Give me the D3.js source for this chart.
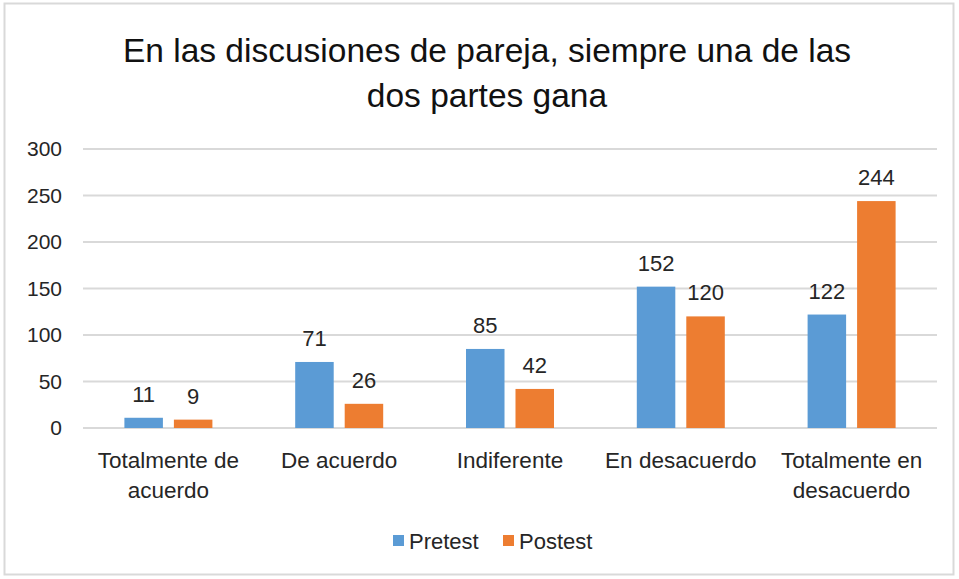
<!DOCTYPE html>
<meta charset="utf-8">
<head>
  <script src="https://d3js.org/d3.v7.min.js"></script>
  <style>
    body { margin: 0; background: #fff; }
    text { font-family: "Liberation Sans", Arial, sans-serif; }
  </style>
</head>
<body>
  <svg width="959" height="579"></svg>
  <script>
    // data
    var categories = [["Totalmente de", "acuerdo"], ["De acuerdo"], ["Indiferente"], ["En desacuerdo"], ["Totalmente en", "desacuerdo"]];
    var series = ["Pretest", "Postest"];
    var pretest = [11, 71, 85, 152, 122];
    var postest = [9, 26, 42, 120, 244];
    var yTicks = [0, 50, 100, 150, 200, 250, 300];
    var titleLines = ["En las discusiones de pareja, siempre una de las", "dos partes gana"];
    var colors = {"Pretest": "#5b9bd5", "Postest": "#ed7d31"};

    var svg = d3.select("svg");

    // chart frame
    svg.append("rect")
      .attr("x", 4.5).attr("y", 3.5)
      .attr("width", 949).attr("height", 571)
      .attr("fill", "#fff")
      .attr("stroke", "#d9d9d9")
      .attr("stroke-width", 2);

    // title
    svg.append("g").selectAll("text")
      .data(titleLines)
      .enter().append("text")
      .attr("x", 487)
      .attr("y", function(d, i) { return 62 + i * 45; })
      .attr("text-anchor", "middle")
      .attr("font-size", 33.5)
      .attr("fill", "#111")
      .text(function(d) { return d; });

    var left = 83, right = 937;
    var y = d3.scaleLinear().domain([0, 300]).range([428, 149]);
    var keys = d3.range(categories.length);
    var x0 = d3.scaleBand().domain(keys).range([left, right]).padding(0);
    var x1 = d3.scaleBand().domain(series).range([-44, 44]).paddingInner(0.222);

    // gridlines
    svg.append("g").selectAll("line")
      .data(yTicks)
      .enter().append("line")
      .attr("x1", left).attr("x2", right)
      .attr("y1", function(d) { return y(d); })
      .attr("y2", function(d) { return y(d); })
      .attr("stroke", "#d9d9d9")
      .attr("stroke-width", 2);

    // y axis labels
    var yAxis = svg.append("g")
      .attr("transform", "translate(62,0)")
      .call(d3.axisLeft(y).tickValues(yTicks).tickSize(0).tickPadding(0));
    yAxis.select(".domain").remove();
    yAxis.selectAll("text")
      .attr("font-size", 21)
      .attr("font-family", "Liberation Sans, Arial, sans-serif")
      .attr("fill", "#262626");

    // bars
    var rows = keys.map(function(i) {
      return [{s: "Pretest", v: pretest[i], i: i}, {s: "Postest", v: postest[i], i: i}];
    });
    var groups = svg.append("g").selectAll("g")
      .data(rows)
      .enter().append("g")
      .attr("transform", function(d, i) { return "translate(" + (x0(i) + x0.bandwidth() / 2) + ",0)"; });

    groups.selectAll("rect")
      .data(function(d) { return d; })
      .enter().append("rect")
      .attr("x", function(d) { return x1(d.s); })
      .attr("width", x1.bandwidth())
      .attr("y", function(d) { return y(d.v); })
      .attr("height", function(d) { return y(0) - y(d.v); })
      .attr("fill", function(d) { return colors[d.s]; });

    groups.selectAll("text")
      .data(function(d) { return d; })
      .enter().append("text")
      .attr("x", function(d) { return x1(d.s) + x1.bandwidth() / 2; })
      .attr("y", function(d) { return y(d.v) - 16; })
      .attr("text-anchor", "middle")
      .attr("font-size", 22)
      .attr("fill", "#262626")
      .text(function(d) { return d.v; });

    // category labels
    var cat = svg.append("g").selectAll("text")
      .data(categories)
      .enter().append("text")
      .attr("x", function(d, i) { return x0(i) + x0.bandwidth() / 2; })
      .attr("y", 468)
      .attr("text-anchor", "middle")
      .attr("font-size", 22.5)
      .attr("fill", "#262626");
    cat.selectAll("tspan")
      .data(function(d) { return d; })
      .enter().append("tspan")
      .attr("x", function() { return this.parentNode.getAttribute("x"); })
      .attr("dy", function(d, i) { return i ? 30 : 0; })
      .text(function(d) { return d; });

    // legend
    var legendX = [393, 503];
    var legend = svg.append("g").selectAll("g")
      .data(series)
      .enter().append("g")
      .attr("transform", function(d, i) { return "translate(" + legendX[i] + ",541)"; });
    legend.append("rect")
      .attr("x", 0).attr("y", -6)
      .attr("width", 11).attr("height", 11)
      .attr("fill", function(d) { return colors[d]; });
    legend.append("text")
      .attr("x", 16).attr("y", 7.5)
      .attr("font-size", 22)
      .attr("fill", "#262626")
      .text(function(d) { return d; });
  </script>
</body>
